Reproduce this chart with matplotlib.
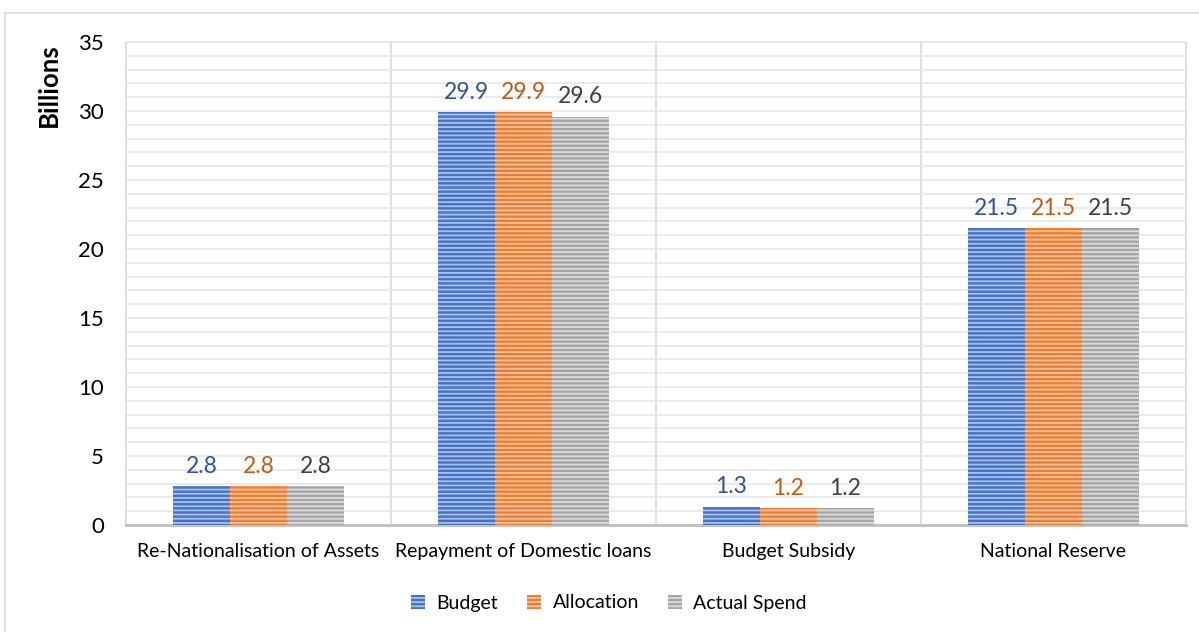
import matplotlib
matplotlib.use("Agg")
import matplotlib.pyplot as plt
import numpy as np
from matplotlib.lines import Line2D
from matplotlib.patches import Patch

categories = ["Re-Nationalisation of Assets", "Repayment of Domestic loans",
              "Budget Subsidy", "National Reserve"]
series_names = ["Budget", "Allocation", "Actual Spend"]
budget = [2.8, 29.9, 1.3, 21.5]
allocation = [2.8, 29.9, 1.2, 21.5]
actual_spend = [2.8, 29.6, 1.2, 21.5]
yticks = [0, 5, 10, 15, 20, 25, 30, 35]

colors = ["#4472C4", "#ED7D31", "#A5A5A5"]
stripe = ["#A9C0EA", "#F8C4A0", "#DCDCDC"]
label_colors = ["#2F5597", "#C55A11", "#404040"]

plt.rcParams["font.family"] = ["Lato", "DejaVu Sans"]
plt.rcParams["hatch.linewidth"] = 1.3

fig = plt.figure(figsize=(11.99, 6.32), dpi=100)
ax = fig.add_axes([126/1199, 1-525/632, (1186-126)/1199, (525-42)/632])

x = np.arange(len(categories))
w = 0.215
data = [budget, allocation, actual_spend]
for i, vals in enumerate(data):
    pos = x + (i - 1) * w
    ax.bar(pos, vals, width=w, color=colors[i], edgecolor=stripe[i],
           linewidth=0, hatch="----", zorder=3, label=series_names[i])
    for p, v in zip(pos, vals):
        ax.annotate(f"{v:.1f}", (p, v), xytext=(0, 7), textcoords="offset points",
                    ha="center", va="bottom", fontsize=16.5, color=label_colors[i])

ax.set_xlim(-0.5, 3.5)
ax.set_ylim(0, 35)
ax.set_yticks(yticks)
ax.set_yticks(np.arange(0, 36, 1), minor=True)
ax.set_xticks(x)
ax.set_xticklabels(categories, fontsize=14)
ax.tick_params(axis="y", labelsize=16, length=0, pad=16, which="both")
ax.tick_params(axis="x", length=0, pad=13)
ax.grid(axis="y", which="both", color="#E6E6E6", linewidth=1.2, zorder=0)
for b in [0.5, 1.5, 2.5]:
    ax.axvline(b, color="#D9D9D9", linewidth=1.2, zorder=1)
ax.spines["top"].set_color("#E6E6E6")
ax.spines["top"].set_linewidth(1.2)
for s in ["left", "right"]:
    ax.spines[s].set_color("#D9D9D9")
    ax.spines[s].set_linewidth(1.2)
ax.spines["bottom"].set_color("#BFBFBF")
ax.spines["bottom"].set_linewidth(2)

fig.text(49/1199, 1-85/632, "Billions", rotation=90, ha="center", va="center",
         fontsize=18.5, fontweight="bold")

handles = [Patch(facecolor=colors[i], edgecolor=stripe[i], linewidth=0, hatch="----",
                 label=series_names[i]) for i in range(3)]
fig.legend(handles=handles, loc="center", bbox_to_anchor=(609/1199, 1-603/632),
           ncol=3, frameon=False, fontsize=14, handlelength=0.7, handleheight=0.7,
           columnspacing=1.5, handletextpad=0.6)

fig.add_artist(Line2D([5/1199, 5/1199], [0, 1-13/632], transform=fig.transFigure,
                      color="#D9D9D9", linewidth=1.2))
fig.add_artist(Line2D([5/1199, 1], [1-13/632, 1-13/632], transform=fig.transFigure,
                      color="#D9D9D9", linewidth=1.2))

fig.savefig("out.png", dpi=100)
